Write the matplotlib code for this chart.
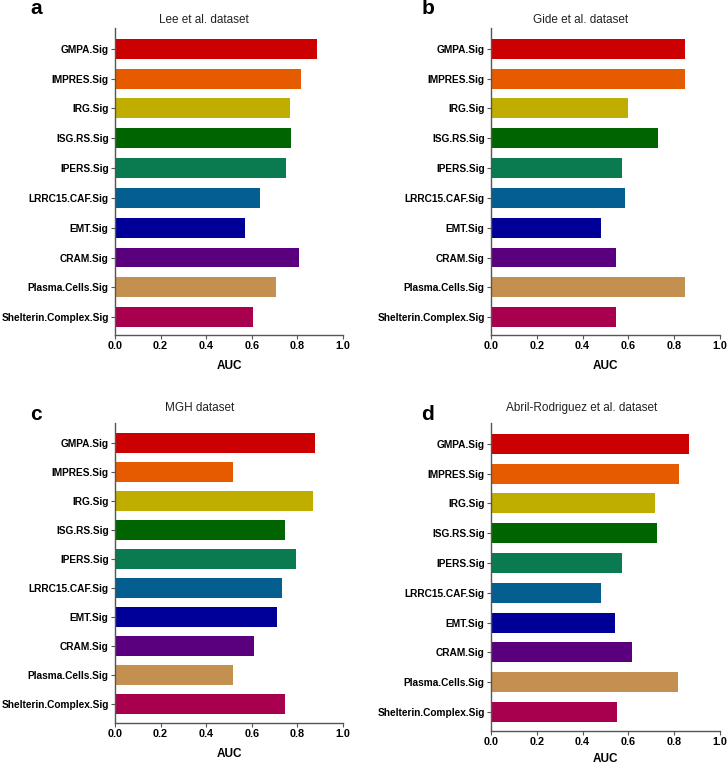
import matplotlib.pyplot as plt
import numpy as np

plt.rcParams['font.family'] = ['Liberation Sans', 'DejaVu Sans']

# signatures (top to bottom)
signatures = ['GMPA.Sig', 'IMPRES.Sig', 'IRG.Sig', 'ISG.RS.Sig', 'IPERS.Sig',
              'LRRC15.CAF.Sig', 'EMT.Sig', 'CRAM.Sig', 'Plasma.Cells.Sig',
              'Shelterin.Complex.Sig']
bar_colors = ['#cc0000', '#e65a00', '#bfae00', '#006400', '#0a7a50',
              '#055e90', '#000099', '#5a007e', '#c4904f', '#a8004f']

# AUC values per dataset
auc_lee = [0.887, 0.817, 0.766, 0.770, 0.749, 0.634, 0.570, 0.807, 0.708, 0.605]
auc_gide = [0.845, 0.845, 0.597, 0.728, 0.574, 0.586, 0.481, 0.547, 0.845, 0.547]
auc_mgh = [0.876, 0.517, 0.870, 0.747, 0.792, 0.731, 0.709, 0.608, 0.517, 0.747]
auc_abril = [0.863, 0.822, 0.714, 0.723, 0.573, 0.481, 0.541, 0.614, 0.818, 0.551]

titles = ['Lee et al. dataset', 'Gide et al. dataset', 'MGH dataset',
          'Abril-Rodriguez et al. dataset']
letters = ['a', 'b', 'c', 'd']

W, H = 727, 765
fig = plt.figure(figsize=(W / 100, H / 100), dpi=100)

# axes boxes in pixels: left, right, top, bottom
boxes = [(115, 343, 28, 335), (491, 720, 28, 335),
         (115, 343, 423, 723), (491, 720, 423, 731)]
ylims = [(9.6, -0.7), (9.6, -0.7), (9.65, -0.69), (9.64, -0.7)]
title_pos = [(204, 20), (581, 20), (200, 408), (582, 408)]
letter_pos = [(36, 8), (428, 8), (36, 415), (428, 415)]
label_pads = [6, 6, 6, 4]

datasets = [auc_lee, auc_gide, auc_mgh, auc_abril]
y = np.arange(len(signatures))

for i, vals in enumerate(datasets):
    l, r, t, b = boxes[i]
    ax = fig.add_axes([l / W, 1 - b / H, (r - l) / W, (b - t) / H])
    ax.barh(y, vals, height=0.67, color=bar_colors)
    ax.set_ylim(*ylims[i])
    ax.set_xlim(0, 1.0)
    ax.set_xticks(np.arange(0, 1.01, 0.2))
    ax.set_xticklabels(['%.1f' % v for v in np.arange(0, 1.01, 0.2)])
    ax.set_yticks(y)
    ax.set_yticklabels(signatures)
    for s in ['top', 'right']:
        ax.spines[s].set_visible(False)
    for s in ['left', 'bottom']:
        ax.spines[s].set_color('#555555')
        ax.spines[s].set_linewidth(1.0)
    ax.tick_params(axis='both', colors='#555555', length=3, width=0.8, pad=1.5,
                   labelcolor='black')
    ax.tick_params(axis='x', labelsize=7.8)
    ax.tick_params(axis='y', labelsize=7.3)
    for lab in ax.get_xticklabels() + ax.get_yticklabels():
        lab.set_fontweight('bold')
    ax.set_xlabel('AUC', fontsize=8.5, fontweight='bold', labelpad=label_pads[i])

    fig.text(title_pos[i][0] / W, 1 - title_pos[i][1] / H, titles[i],
             ha='center', va='center', fontsize=8.5, color='#222222')
    fig.text(letter_pos[i][0] / W, 1 - letter_pos[i][1] / H, letters[i],
             ha='center', va='center', fontsize=15, fontweight='bold')

fig.savefig('out.png', dpi=100)
